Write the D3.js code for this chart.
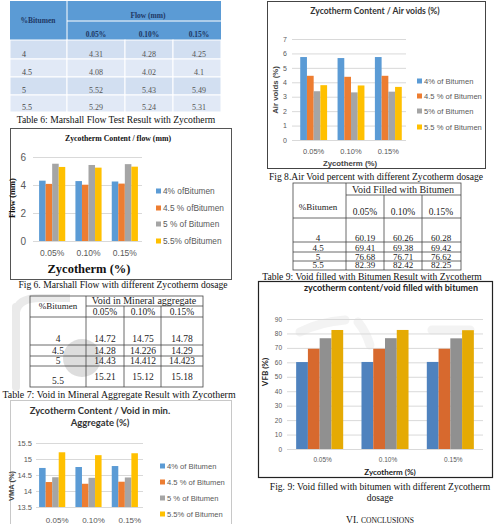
<!DOCTYPE html>
<html><head><meta charset="utf-8">
<script src="https://cdn.jsdelivr.net/npm/d3@7"></script>
<style>html,body{margin:0;padding:0;background:#fff;overflow:hidden}</style>
</head><body>
<svg id="page" width="496" height="524" xmlns="http://www.w3.org/2000/svg"></svg>
<script>
// ---------------- data ----------------
const zycoLevels = ["0.05%", "0.10%", "0.15%"];
const bitumenLevels = ["4", "4.5", "5", "5.5"];
const flowValues = [[4.31, 4.28, 4.25], [4.08, 4.02, 4.1], [5.52, 5.43, 5.49], [5.29, 5.24, 5.31]];
const vmaValues = [[14.72, 14.75, 14.78], [14.28, 14.226, 14.29], [14.43, 14.412, 14.423], [15.21, 15.12, 15.18]];
const airVoidValues = [[5.75, 5.68, 5.75], [4.45, 4.38, 4.45], [3.38, 3.3, 3.35], [3.8, 3.78, 3.68]];
const vfbValues = [[60.19, 60.26, 60.28], [69.41, 69.38, 69.42], [76.68, 76.71, 76.62], [82.39, 82.42, 82.25]];
const flowTicks = [0, 2, 4, 6];
const vmaTicks = [13.5, 14, 14.5, 15, 15.5];
const airTicks = [0, 1, 2, 3, 4, 5, 6, 7];
const vfbTicks = [0, 10, 20, 30, 40, 50, 60, 70, 80, 90];
const flowLegend = ["4% ofBitumen", "4.5 % ofBitumen", "5 % of Bitumen", "5.5% ofBitumen"];
const vmaLegend = ["4% of Bitumen", "4.5 % of Bitumen", "5 % of Bitumen", "5.5% of Bitumen"];
const airLegend = ["4% of Bitumen", "4.5 % of Bitumen", "5% of Bitumen", "5.5 % of Bitumen"];
const officeColors = ["#5b9bd5", "#ed7d31", "#a5a5a5", "#ffc000"];
const vfbColors = ["#4f82be", "#d7692e", "#909090", "#e5aa04"];

// ---------------- helpers ----------------
const svg = d3.select("#page");
svg.append("rect").attr("width", 496).attr("height", 524).attr("fill", "#fff");
const SERIF = "'Liberation Serif','Times New Roman',serif";
const ARIAL = "'Liberation Sans',Arial,sans-serif";
const CAL = "Lato,'Open Sans',sans-serif";

function txt(x, y, s, o = {}) {
  const t = svg.append("text").attr("x", x).attr("y", y).text(s)
    .attr("font-family", o.font || SERIF).attr("font-size", o.size || 10)
    .attr("fill", o.fill || "#111").attr("text-anchor", o.anchor || "middle");
  if (o.bold) t.attr("font-weight", "bold");
  if (o.rotate) t.attr("transform", `rotate(-90 ${x} ${y})`);
  if (o.ls) t.attr("letter-spacing", o.ls);
  return t;
}

// ---------------- watermark ----------------
const wm = svg.append("g").attr("opacity", 0.5);
wm.append("circle").attr("cx", 82).attr("cy", 358).attr("r", 19).attr("fill", "#bdbdbd");
wm.append("rect").attr("x", 12).attr("y", 303).attr("width", 8).attr("height", 88).attr("rx", 4).attr("fill", "#d6d6d6");
wm.append("path").attr("d", "M16,312 Q18,298 40,298 L70,298").attr("stroke", "#d6d6d6").attr("stroke-width", 8).attr("fill", "none");
wm.append("path").attr("d", "M300,332 Q320,322 345,320 M358,322 Q366,332 370,345 M432,330 L470,330").attr("stroke", "#e8e8e8").attr("stroke-width", 9).attr("stroke-linecap", "round").attr("fill", "none");

// ---------------- bar chart ----------------
function barChart(c) {
  const g = svg.append("g");
  const y = d3.scaleLinear().domain(c.domain).range([c.yBottom, c.yTop]);
  const x0 = d3.scaleBand().domain(zycoLevels).range(c.bandRange).paddingInner(0.28).paddingOuter(0.14);
  const x1 = d3.scaleBand().domain(bitumenLevels).range([0, x0.bandwidth()]);
  const gw = c.gridRange[1] - c.gridRange[0];
  const ya = g.append("g").attr("transform", `translate(${c.gridRange[0]},0)`)
    .call(d3.axisLeft(y).tickValues(c.ticks).tickSize(-gw).tickPadding(c.tickPad || 6).tickFormat(d => String(d)));
  ya.select(".domain").remove();
  ya.selectAll("line").attr("stroke", c.gridColor || "#d9d9d9");
  ya.selectAll("text").attr("font-family", c.tickFont || CAL).attr("font-size", c.tickSize || 8).attr("fill", "#595959");
  c.values.forEach((series, i) => {
    g.selectAll(null).data(series).enter().append("rect")
      .attr("x", (d, j) => x0(zycoLevels[j]) + x1(bitumenLevels[i]))
      .attr("y", d => y(d))
      .attr("width", x1.bandwidth())
      .attr("height", d => y(c.domain[0]) - y(d))
      .attr("fill", c.colors[i]);
  });
  const xa = g.append("g").attr("transform", `translate(${c.labelDx || 0},${c.yBottom})`)
    .call(d3.axisBottom(x0).tickSize(0).tickPadding(c.xPad || 8));
  xa.select(".domain").remove();
  xa.selectAll("text").attr("font-family", c.tickFont || CAL).attr("font-size", c.xSize || c.tickSize || 8).attr("fill", "#595959");
  if (c.legend) {
    c.legend.forEach((l, i) => {
      g.append("rect").attr("x", c.legX).attr("y", c.legY[i] - c.legSq / 2).attr("width", c.legSq).attr("height", c.legSq).attr("fill", c.colors[i]);
      g.append("text").attr("x", c.legX + c.legSq + 2).attr("y", c.legY[i] + 3)
        .attr("font-family", c.legFont || CAL).attr("font-size", c.legSize || 8).attr("fill", "#595959").text(l);
    });
  }
}

// ================= Table 6 =================
{
  const colX = [10, 67, 125, 173, 221];
  const rowY = [40, 59, 77, 95, 112];
  svg.append("rect").attr("x", 10).attr("y", 1).attr("width", 211).attr("height", 39).attr("fill", "#5b9bd5");
  svg.append("line").attr("x1", 67).attr("x2", 67).attr("y1", 1).attr("y2", 40).attr("stroke", "#fff");
  svg.append("line").attr("x1", 67).attr("x2", 221).attr("y1", 21).attr("y2", 21).attr("stroke", "#fff");
  for (let r = 0; r < 4; r++) {
    for (let c = 0; c < 4; c++) {
      svg.append("rect").attr("x", colX[c]).attr("y", rowY[r]).attr("width", colX[c + 1] - colX[c]).attr("height", rowY[r + 1] - rowY[r])
        .attr("fill", r % 2 === 0 ? "#d2dff1" : "#e1e9f6").attr("stroke", "#fff").attr("stroke-width", 1);
    }
  }
  const hc = "#1f3864";
  txt(38, 23, "%Bitumen", { size: 7.5, bold: true, fill: hc });
  txt(148, 18, "Flow (mm)", { size: 7.5, bold: true, fill: hc });
  const cx = [96, 149, 199];
  zycoLevels.forEach((z, j) => txt(cx[j], 37, z, { size: 7.5, bold: true, fill: hc }));
  bitumenLevels.forEach((b, i) => {
    const yy = [57, 75, 93, 110][i];
    txt(22, yy, b, { size: 8, fill: "#444", anchor: "start" });
    flowValues[i].forEach((v, j) => txt(cx[j], yy, String(v), { size: 8, fill: "#555" }));
  });
  txt(116, 123, "Table 6: Marshall Flow Test Result with Zycotherm", { size: 9.6 });
}

// ================= Fig 6 =================
svg.append("rect").attr("x", 10.5).attr("y", 128.5).attr("width", 221).attr("height", 151).attr("fill", "none").attr("stroke", "#555");
txt(118, 141, "Zycotherm Content / flow (mm)", { size: 7.8, bold: true });
barChart({
  values: flowValues, colors: officeColors, domain: [0, 6], ticks: flowTicks,
  yBottom: 241, yTop: 157, bandRange: [34, 143], gridRange: [33, 142],
  tickFont: ARIAL, tickSize: 10, xSize: 8.5, tickPad: 7, xPad: 9,
  legend: flowLegend, legX: 156, legY: [191, 208, 224, 241], legSq: 5, legFont: ARIAL, legSize: 8.3
});
txt(89, 273, "Zycotherm  (%)", { size: 12.5, bold: true });
txt(15, 198, "Flow (mm)", { size: 8.5, bold: true, rotate: true });
txt(123, 288, "Fig 6. Marshall Flow with different Zycotherm dosage", { size: 9.6 });

// ================= Table 7 =================
{
  const g = svg.append("g").attr("stroke", "#444").attr("stroke-width", 0.8).attr("fill", "none");
  g.append("rect").attr("x", 30).attr("y", 296).attr("width", 173).attr("height", 91);
  g.append("line").attr("x1", 86).attr("x2", 203).attr("y1", 306).attr("y2", 306);
  [317, 345, 356, 366].forEach(yy => g.append("line").attr("x1", 30).attr("x2", 203).attr("y1", yy).attr("y2", yy));
  g.append("line").attr("x1", 86).attr("x2", 86).attr("y1", 296).attr("y2", 387);
  [124, 161].forEach(xx => g.append("line").attr("x1", xx).attr("x2", xx).attr("y1", 306).attr("y2", 387));
  txt(58, 309, "%Bitumen", { size: 9, fill: "#222" });
  txt(144, 304, "Void in Mineral aggregate", { size: 10, fill: "#222" });
  const cx = [105, 143, 182];
  zycoLevels.forEach((z, j) => txt(cx[j], 315, z, { size: 9.5, fill: "#222" }));
  const ry = [342, 354, 364, 384];
  const vy = [342, 354, 364, 380];
  bitumenLevels.forEach((b, i) => {
    txt(58, ry[i], b, { size: 9.5, fill: "#222" });
    vmaValues[i].forEach((v, j) => txt(cx[j], vy[i], String(v), { size: 9.5, fill: "#222" }));
  });
  txt(119, 398, "Table 7: Void in Mineral Aggregate Result with Zycotherm", { size: 9.9 });
}

// ================= Fig 7 =================
svg.append("rect").attr("x", 10.5).attr("y", 400.5).attr("width", 221).attr("height", 130).attr("fill", "none").attr("stroke", "#c8c8c8");
txt(100, 414, "Zycotherm Content / Void in min.", { size: 9.5, bold: true, font: CAL, fill: "#333" });
txt(100, 426, "Aggregate (%)", { size: 9.5, bold: true, font: CAL, fill: "#333" });
barChart({
  values: vmaValues, colors: officeColors, domain: [13.5, 15.5], ticks: vmaTicks,
  yBottom: 507, yTop: 443, bandRange: [34, 143], gridRange: [36, 143],
  tickFont: ARIAL, tickSize: 7.5, xSize: 8, tickPad: 4, xPad: 10, labelDx: 5,
  legend: vmaLegend, legX: 160, legY: [466, 482, 498, 514], legSq: 5, legFont: ARIAL, legSize: 7.6
});
txt(14, 486, "VMA (%)", { size: 7.5, bold: true, font: ARIAL, rotate: true, fill: "#444" });

// ================= Fig 8 =================
svg.append("rect").attr("x", 267.5).attr("y", 1.5).attr("width", 218).attr("height", 167).attr("fill", "none").attr("stroke", "#444");
txt(375, 14, "Zycotherm Content / Air voids (%)", { size: 8.6, bold: true, font: CAL, fill: "#333" });
barChart({
  values: airVoidValues, colors: officeColors, domain: [0, 7], ticks: airTicks,
  yBottom: 140, yTop: 39, bandRange: [295, 407], gridRange: [292, 406],
  tickFont: ARIAL, tickSize: 7, xSize: 7.5, tickPad: 5, xPad: 9,
  legend: airLegend, legX: 417, legY: [81, 96, 111, 127], legSq: 5, legFont: ARIAL, legSize: 7.6
});
txt(350, 166, "Zycotherm (%)", { size: 7.8, bold: true, font: ARIAL, fill: "#444" });
txt(278, 90, "Air voids (%)", { size: 7.8, bold: true, font: ARIAL, rotate: true, fill: "#444" });
txt(376, 180, "Fig 8.Air Void percent with different Zycotherm dosage", { size: 9.6 });

// ================= Table 9 =================
{
  const g = svg.append("g").attr("stroke", "#444").attr("stroke-width", 0.8).attr("fill", "none");
  g.append("rect").attr("x", 293).attr("y", 183).attr("width", 168).attr("height", 87);
  g.append("line").attr("x1", 346).attr("x2", 461).attr("y1", 195).attr("y2", 195);
  [218, 242, 252, 261].forEach(yy => g.append("line").attr("x1", 293).attr("x2", 461).attr("y1", yy).attr("y2", yy));
  g.append("line").attr("x1", 346).attr("x2", 346).attr("y1", 183).attr("y2", 270);
  [384, 422].forEach(xx => g.append("line").attr("x1", xx).attr("x2", xx).attr("y1", 195).attr("y2", 270));
  txt(403, 193, "Void Filled with Bitumen", { size: 10, fill: "#222" });
  txt(318, 210, "%Bitumen", { size: 9, fill: "#222" });
  const cx = [365, 403, 441];
  zycoLevels.forEach((z, j) => txt(cx[j], 215, z, { size: 9.5, fill: "#222" }));
  const ry = [241, 250.5, 259.5, 268];
  bitumenLevels.forEach((b, i) => {
    txt(318, ry[i], b, { size: 9, fill: "#222" });
    vfbValues[i].forEach((v, j) => txt(cx[j], ry[i], String(v), { size: 9, fill: "#222" }));
  });
  txt(372, 279.5, "Table 9: Void filled with Bitumen Result with Zycotherm", { size: 9.6 });
}

// ================= Fig 9 =================
svg.append("rect").attr("x", 258.5).attr("y", 281.5).attr("width", 234).attr("height", 196).attr("fill", "none").attr("stroke", "#222").attr("stroke-width", 1.2);
txt(391, 291, "zycotherm content/void filled with bitumen", { size: 9, bold: true, font: CAL, fill: "#222" });
barChart({
  values: vfbValues, colors: vfbColors, domain: [0, 90], ticks: vfbTicks,
  yBottom: 449, yTop: 319, bandRange: [287, 483], gridRange: [287, 483],
  tickFont: ARIAL, tickSize: 6.5, xSize: 6.5, tickPad: 5, xPad: 8, labelDx: 3
});
txt(390, 475, "Zycotherm (%)", { size: 8, bold: true, font: CAL, fill: "#222" });
txt(268, 372, "VFB (%)", { size: 8, bold: true, font: CAL, rotate: true, fill: "#222" });
txt(380, 490, "Fig. 9: Void filled with bitumen with different Zycotherm", { size: 9.6 });
txt(380, 501, "dosage", { size: 9.6 });
const conc = svg.append("text").attr("x", 380).attr("y", 523).attr("text-anchor", "middle").attr("font-family", SERIF).attr("fill", "#111");
conc.append("tspan").attr("font-size", 9.6).text("VI.   ");
conc.append("tspan").attr("font-size", 7.6).text("CONCLUSIONS");
</script>
</body></html>
